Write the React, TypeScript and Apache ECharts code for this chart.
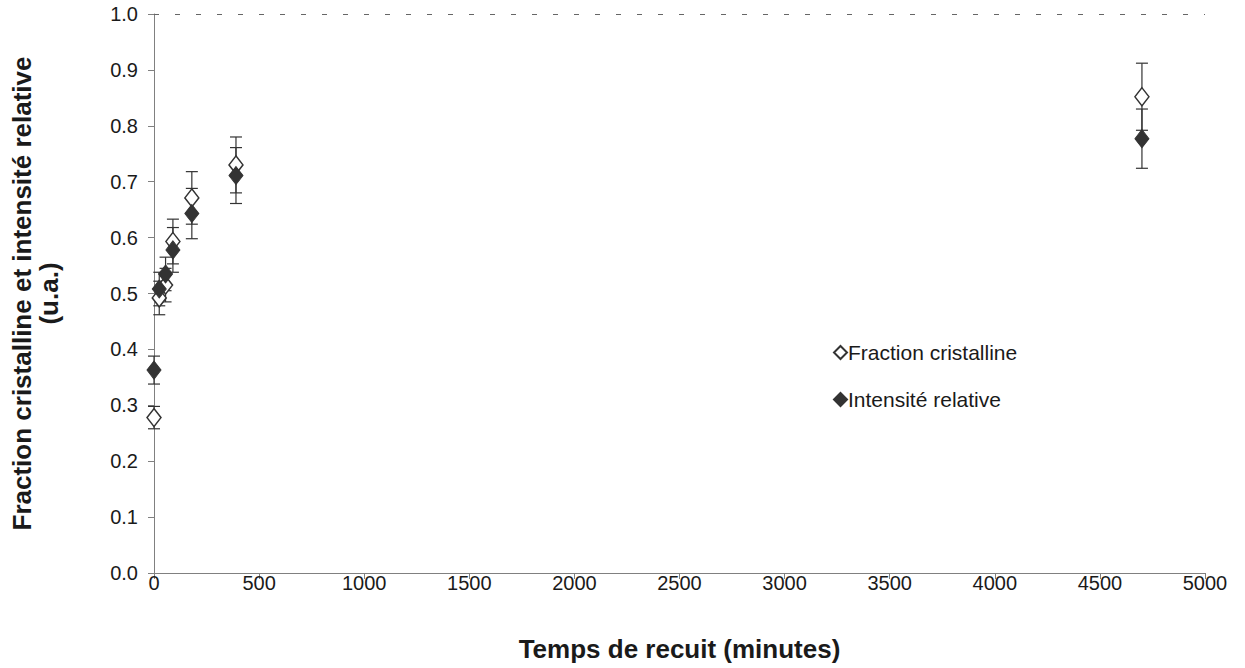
import React, { useEffect, useRef } from "react";
import * as echarts from "echarts";

const times = [0, 25, 55, 90, 180, 390, 4700];
const fractionValues = [0.278, 0.492, 0.515, 0.593, 0.671, 0.73, 0.852];
const fractionErrors = [0.02, 0.03, 0.03, 0.04, 0.047, 0.05, 0.06];
const intensityValues = [0.363, 0.508, 0.535, 0.578, 0.643, 0.711, 0.777];
const intensityErrors = [0.025, 0.03, 0.03, 0.04, 0.045, 0.05, 0.053];
const seriesNames = ["Fraction cristalline", "Intensité relative"];
const xTitle = "Temps de recuit (minutes)";
const yTitle = "Fraction cristalline et intensité relative\n(u.a.)";

const DARK = "#333333";
const AXIS = "#808080";
const TEXT = "#1a1a1a";
const FONT = "Liberation Sans, Arial, sans-serif";

function errorSeries(values: number[], errors: number[]) {
  return {
    type: "custom",
    silent: true,
    z: 2,
    data: times.map((t, i) => [t, values[i] - errors[i], values[i] + errors[i]]),
    encode: { x: 0, y: [1, 2] },
    renderItem: (params: any, api: any) => {
      const x = api.value(0);
      const lo = api.coord([x, api.value(1)]);
      const hi = api.coord([x, api.value(2)]);
      const cap = 6;
      const style = { stroke: DARK, lineWidth: 1.2 };
      return {
        type: "group",
        children: [
          { type: "line", shape: { x1: lo[0], y1: lo[1], x2: hi[0], y2: hi[1] }, style },
          { type: "line", shape: { x1: lo[0] - cap, y1: lo[1], x2: lo[0] + cap, y2: lo[1] }, style },
          { type: "line", shape: { x1: hi[0] - cap, y1: hi[1], x2: hi[0] + cap, y2: hi[1] }, style },
        ],
      };
    },
  };
}

export default function App() {
  const ref = useRef<HTMLDivElement>(null);
  useEffect(() => {
    if (!ref.current) return;
    const chart = echarts.init(ref.current, undefined, { renderer: "svg" });
    chart.setOption({
      animation: false,
      backgroundColor: "#ffffff",
      textStyle: { fontFamily: FONT },
      grid: { left: 153, right: 40, top: 14, bottom: 95, containLabel: false },
      legend: {
        data: seriesNames,
        orient: "vertical",
        left: 828,
        top: 337,
        itemGap: 26,
        itemWidth: 13,
        itemHeight: 13,
        textStyle: { fontSize: 21, color: TEXT, fontFamily: FONT, padding: [0, 0, 0, -4] },
      },
      xAxis: {
        type: "value",
        min: 0,
        max: 5000,
        interval: 500,
        name: xTitle,
        nameLocation: "middle",
        nameGap: 63,
        nameTextStyle: { fontSize: 26, fontWeight: "bold", color: TEXT, fontFamily: FONT },
        axisLine: { show: true, lineStyle: { color: AXIS, width: 1 } },
        axisTick: { show: true, length: 6, lineStyle: { color: AXIS } },
        axisLabel: {
          fontSize: 20,
          color: TEXT,
          margin: 0,
          fontFamily: FONT,
          formatter: (v: number) => String(v),
        },
        splitLine: { show: false },
      },
      yAxis: {
        type: "value",
        min: 0,
        max: 1,
        interval: 0.1,
        name: yTitle,
        nameLocation: "middle",
        nameRotate: 90,
        nameGap: 92,
        nameTextStyle: { fontSize: 26, fontWeight: "bold", color: TEXT, fontFamily: FONT, lineHeight: 27 },
        axisLine: { show: true, lineStyle: { color: AXIS, width: 1 } },
        axisTick: { show: true, length: 6, lineStyle: { color: AXIS } },
        axisLabel: {
          fontSize: 20,
          color: TEXT,
          margin: 16,
          fontFamily: FONT,
          formatter: (v: number) => v.toFixed(1),
        },
        splitLine: { show: false },
      },
      series: [
        errorSeries(fractionValues, fractionErrors),
        errorSeries(intensityValues, intensityErrors),
        {
          name: seriesNames[0],
          type: "scatter",
          symbol: "diamond",
          symbolSize: [14, 18],
          z: 3,
          itemStyle: { color: "#ffffff", borderColor: DARK, borderWidth: 1.5, opacity: 1 },
          data: times.map((t, i) => [t, fractionValues[i]]),
          markLine: {
            silent: true,
            symbol: "none",
            label: { show: false },
            lineStyle: { color: "#666666", type: [5, 16], width: 1 },
            data: [{ yAxis: 1 }],
          },
        },
        {
          name: seriesNames[1],
          type: "scatter",
          symbol: "diamond",
          symbolSize: [14, 18],
          z: 4,
          itemStyle: { color: DARK, borderColor: DARK, borderWidth: 1, opacity: 1 },
          data: times.map((t, i) => [t, intensityValues[i]]),
        },
      ],
    });
    return () => chart.dispose();
  }, []);
  return (
    <div
      ref={ref}
      style={{ position: "fixed", left: 0, top: 0, width: 1245, height: 668, background: "#fff" }}
    />
  );
}
